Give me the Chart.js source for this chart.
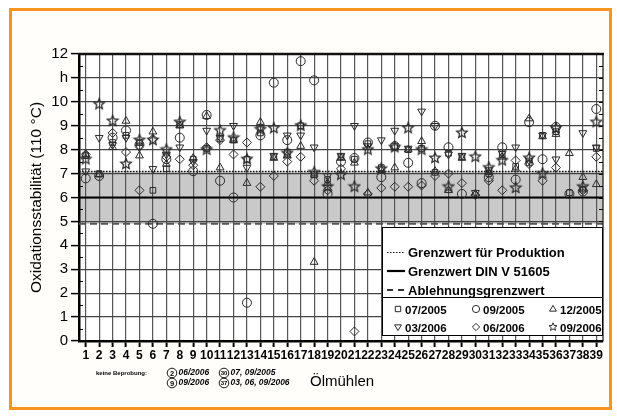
<!DOCTYPE html>
<html>
<head>
<meta charset="utf-8">
<script src="https://cdn.jsdelivr.net/npm/chart.js@4.4.0/dist/chart.umd.min.js"></script>
<style>
  html, body { margin: 0; padding: 0; background: #fff; }
  #wrap { position: relative; width: 617px; height: 416px; }
  #frame { position: absolute; left: 9px; top: 8px; width: 597px; height: 396px; border: 3px solid #f7941d; background: #fffefa; }
  canvas { position: absolute; left: 0; top: 0; }
</style>
</head>
<body>
<div id="wrap"><div id="frame"></div><canvas id="oxChart" width="617" height="416"></canvas></div>
<script>
// Ölmühlen 1..39
const muehlen = ['1','2','3','4','5','6','7','8','9','10','11','12','13','14','15','16','17','18','19','20',
                 '21','22','23','24','25','26','27','28','29','30','31','32','33','34','35','36','37','38','39'];

// Oxidationsstabilität in h, per sampling date (null = keine Beprobung)
const s0705 = [7.75, 7.0, 8.3, 8.6, 8.3, 6.3, 7.2, 9.05, 7.6, 8.05, 8.45, 8.4, 7.6, 8.7, 7.7, 7.9, 9.0, 6.95, 6.75, 7.7,
               7.6, 8.25, 7.25, 8.15, 8.0, 8.05, 7.05, 7.85, 7.7, null, 7.0, 7.8, 7.3, 7.45, 8.6, 8.75, 6.2, 6.35, 8.05];
const s0905 = [6.8, 6.9, 8.5, 8.8, 8.2, 4.9, 7.6, 8.5, 7.1, 9.45, 6.7, 6.0, 1.6, 8.6, 10.8, 8.4, 11.7, 10.9, 6.15, 7.5,
               7.65, 8.3, 6.85, 8.15, 7.45, 6.6, 9.0, 8.1, 6.15, null, 6.85, 8.1, 6.75, 9.15, 7.6, 8.95, 6.15, 6.25, 9.7];
const s1205 = [7.8, 6.95, 8.1, 9.2, 7.75, 8.75, 7.4, 9.0, 7.65, 9.4, 7.25, 8.4, 6.6, 9.15, 7.65, 7.75, 8.15, 3.3, 6.6, 7.65,
               7.45, 6.2, 7.15, 7.25, 8.0, 8.35, 7.1, 6.3, 7.65, 6.15, 7.05, 7.7, 7.2, 9.3, 8.55, 8.65, 7.85, 6.85, 6.55];
const s0306 = [7.1, 8.5, 8.2, 8.5, 8.1, 7.2, 7.8, 8.1, 7.5, 8.8, 8.5, 9.0, 7.25, 8.9, 7.75, 8.6, 8.6, 8.1, 6.9, 7.75,
               9.0, 8.15, 8.4, 8.8, 8.05, 9.6, 9.0, 7.8, 7.75, 6.2, 7.15, 7.85, 8.1, 7.55, 8.6, 7.6, null, 8.7, 8.1];
const s0606 = [7.8, null, 8.7, 7.9, 6.3, 8.45, 7.7, 7.6, 7.35, 8.1, 8.4, 7.8, 8.3, 6.45, 6.9, 7.5, 7.7, 6.7, 6.3, 7.2,
               0.4, 6.15, 6.4, 6.45, 6.45, 6.5, 6.9, 7.0, 6.6, 6.1, 6.7, 6.3, 7.55, 7.4, 6.7, 7.25, null, 6.3, 7.7];
const s0906 = [7.6, 9.9, 9.2, 7.4, 8.4, 8.4, 8.0, 9.15, null, 8.0, 8.8, 8.5, 7.6, 8.85, 8.9, 7.85, 9.0, 7.05, 6.45, 6.95,
               6.45, 8.0, 7.2, 8.1, 8.9, 8.0, 7.65, 6.45, 8.7, 7.7, 7.25, 7.55, 6.4, 7.65, 7.0, 8.9, null, 6.45, 9.15];

const seriesLabels = ['07/2005', '09/2005', '12/2005', '03/2006', '06/2006', '09/2006'];

// Grenzwerte
const limitProduction = 7.1;
const limitDin = 6.0;
const limitReject = 4.9;
const limitLabels = ['Grenzwert für Produktion', 'Grenzwert DIN V 51605', 'Ablehnungsgrenzwert'];

const yTickLabels = ['0','1','2','3','4','5','6','7','8','9','10','h','12'];

const noSampling = [
    ['2', '06/2006'], ['30', '07, 09/2005'],
    ['9', '09/2006'], ['37', '03, 06, 09/2006']
];

const INK = '#2a2a2a';
const FONT = '"Liberation Sans", Arial, sans-serif';

// 5-point star marker
function makeStar(r, w) {
    const c = document.createElement('canvas');
    const s = Math.ceil(r * 2 + 3);
    c.width = s; c.height = s;
    const g = c.getContext('2d');
    g.strokeStyle = INK;
    g.lineWidth = w;
    g.beginPath();
    for (let i = 0; i < 10; i++) {
        const rad = i % 2 === 0 ? r : r * 0.45;
        const a = -Math.PI / 2 + i * Math.PI / 5;
        const px = s / 2 + rad * Math.cos(a), py = s / 2 + rad * Math.sin(a);
        if (i === 0) g.moveTo(px, py); else g.lineTo(px, py);
    }
    g.closePath();
    g.stroke();
    return c;
}
const starBig = makeStar(5.5, 1.25);
const starSmall = makeStar(4.2, 1);

function drawMarker(ctx, kind, x, y, r) {
    ctx.save();
    ctx.strokeStyle = INK;
    ctx.lineWidth = 1;
    ctx.beginPath();
    if (kind === 'circle') {
        ctx.arc(x, y, r, 0, Math.PI * 2);
    } else if (kind === 'rect') {
        const h = r * 0.75;
        ctx.rect(x - h, y - h, 2 * h, 2 * h);
    } else if (kind === 'triangle' || kind === 'down') {
        const d = kind === 'down' ? -1 : 1;
        ctx.moveTo(x, y - d * r);
        ctx.lineTo(x - r * 0.95, y + d * r * 0.6);
        ctx.lineTo(x + r * 0.95, y + d * r * 0.6);
        ctx.closePath();
    } else if (kind === 'rectRot') {
        ctx.moveTo(x, y - r); ctx.lineTo(x + r, y); ctx.lineTo(x, y + r); ctx.lineTo(x - r, y);
        ctx.closePath();
    }
    if (kind === 'star') {
        ctx.drawImage(starSmall, x - starSmall.width / 2, y - starSmall.height / 2);
    } else {
        ctx.stroke();
    }
    ctx.restore();
}

function hline(ctx, x1, x2, y, width, dash, color) {
    ctx.save();
    ctx.strokeStyle = color;
    ctx.lineWidth = width;
    ctx.setLineDash(dash);
    ctx.beginPath();
    ctx.moveTo(x1, y);
    ctx.lineTo(x2, y);
    ctx.stroke();
    ctx.restore();
}

const limitsPlugin = {
    id: 'limits',
    beforeDraw(chart) {
        const {ctx, chartArea: a, scales: {y}} = chart;
        ctx.save();
        ctx.fillStyle = '#fff';
        ctx.fillRect(a.left, a.top, a.width, a.height);
        const top = y.getPixelForValue(limitProduction);
        const bot = y.getPixelForValue(limitReject);
        ctx.fillStyle = '#c9c9c9';
        ctx.fillRect(a.left, top, a.width, bot - top);
        ctx.restore();
    },
    beforeDatasetsDraw(chart) {
        const {ctx, chartArea: a, scales: {y}} = chart;
        hline(ctx, a.left, a.right, Math.round(y.getPixelForValue(limitProduction)) + 0.5, 1.3, [1.5, 1.5], '#111');
        hline(ctx, a.left, a.right, y.getPixelForValue(limitDin), 2.2, [], '#000');
        hline(ctx, a.left, a.right, y.getPixelForValue(limitReject), 2, [7, 4], '#555');

        // minor ticks on both vertical axes
        ctx.save();
        ctx.strokeStyle = '#000';
        ctx.lineWidth = 1;
        for (let v = 0.5; v < 12; v += 0.5) {
            const py = Math.round(y.getPixelForValue(v)) + 0.5;
            ctx.beginPath();
            if (v % 1 !== 0) { ctx.moveTo(a.left, py); ctx.lineTo(a.left + 4, py); }
            ctx.moveTo(a.right - 4, py); ctx.lineTo(a.right, py);
            ctx.stroke();
        }
        ctx.restore();
        // top and right frame
        hline(ctx, a.left - 1, a.right + 1, a.top, 2.5, [], '#111');
        ctx.save();
        ctx.strokeStyle = '#111';
        ctx.lineWidth = 1.2;
        ctx.beginPath();
        ctx.moveTo(a.right, a.top);
        ctx.lineTo(a.right, a.bottom);
        ctx.stroke();
        ctx.restore();
    },
    afterDraw(chart) {
        const {ctx, chartArea: a} = chart;

        // legend box
        const L = 382.5, T = 227.5, R = 602.5, B = 335.5, S = 297.5;
        ctx.save();
        ctx.fillStyle = '#fff';
        ctx.fillRect(L, T, R - L, B - T);
        ctx.strokeStyle = '#000';
        ctx.lineWidth = 1;
        ctx.strokeRect(L, T, R - L, B - T);
        ctx.beginPath(); ctx.moveTo(L, S); ctx.lineTo(R, S); ctx.stroke();

        const ly = [252, 271, 290];
        hline(ctx, 387, 405, ly[0] + 0.5, 1.2, [1.5, 1.5], '#111');
        hline(ctx, 387, 405, ly[1], 2.2, [], '#000');
        hline(ctx, 387, 405, ly[2], 2, [6, 5], '#333');
        ctx.fillStyle = '#000';
        ctx.font = 'bold 13px ' + FONT;
        ctx.textBaseline = 'middle';
        ctx.textAlign = 'left';
        limitLabels.forEach((t, i) => ctx.fillText(t, 408, ly[i] + 1));

        const cols = [398, 476, 553], rows = [310, 328];
        const kinds = ['rect', 'circle', 'triangle', 'down', 'rectRot', 'star'];
        ctx.font = 'bold 11.5px ' + FONT;
        seriesLabels.forEach((t, i) => {
            const cx = cols[i % 3], cy = rows[Math.floor(i / 3)];
            drawMarker(ctx, kinds[i], cx, cy - 1, 3.6);
            ctx.fillStyle = '#000';
            ctx.fillText(t, cx + 7, cy + 1);
        });

        // axis titles
        ctx.font = '15px ' + FONT;
        ctx.textAlign = 'left';
        ctx.fillText('Ölmühlen', 310, 382);
        ctx.save();
        ctx.translate(37, (a.top + a.bottom) / 2);
        ctx.rotate(-Math.PI / 2);
        ctx.textAlign = 'center';
        ctx.font = '15.5px ' + FONT;
        ctx.fillText('Oxidationsstabilität (110 °C)', 0, 0);
        ctx.restore();

        // footnote
        ctx.font = 'bold 6px ' + FONT;
        ctx.fillText('keine Beprobung:', 96, 373);
        const fx = [172, 224], fy = [373, 383];
        noSampling.forEach((n, i) => {
            const cx = fx[i % 2], cy = fy[Math.floor(i / 2)];
            ctx.beginPath();
            ctx.arc(cx, cy, 4.8, 0, Math.PI * 2);
            ctx.strokeStyle = '#000';
            ctx.lineWidth = 0.9;
            ctx.stroke();
            ctx.textAlign = 'center';
            ctx.font = 'bold ' + (n[0].length > 1 ? 6 : 7.5) + 'px ' + FONT;
            ctx.fillText(n[0], cx, cy + 0.5);
            ctx.textAlign = 'left';
            ctx.font = 'italic bold 8.5px ' + FONT;
            ctx.fillText(n[1], cx + 6.5, cy);
        });
        ctx.restore();
    }
};

const pointBase = {
    showLine: false,
    pointRadius: 4.5,
    pointHoverRadius: 4.5,
    pointBorderWidth: 1,
    pointBorderColor: INK,
    pointBackgroundColor: 'rgba(0,0,0,0)',
    borderColor: INK
};

const ctx = document.getElementById('oxChart').getContext('2d');
const oxChart = new Chart(ctx, {
    type: 'line',
    data: {
        labels: muehlen,
        datasets: [
            Object.assign({label: seriesLabels[0], data: s0705, pointStyle: 'rect'}, pointBase, {pointRadius: 4, pointHoverRadius: 4}),
            Object.assign({label: seriesLabels[1], data: s0905, pointStyle: 'circle'}, pointBase),
            Object.assign({label: seriesLabels[2], data: s1205, pointStyle: 'triangle'}, pointBase),
            Object.assign({label: seriesLabels[3], data: s0306, pointStyle: 'triangle', pointRotation: 180}, pointBase),
            Object.assign({label: seriesLabels[4], data: s0606, pointStyle: 'rectRot'}, pointBase),
            Object.assign({label: seriesLabels[5], data: s0906, pointStyle: starBig}, pointBase)
        ]
    },
    options: {
        responsive: false,
        animation: false,
        events: [],
        layout: { padding: { left: 0, top: 54, right: 14, bottom: 50 } },
        plugins: {
            legend: { display: false },
            tooltip: { enabled: false }
        },
        scales: {
            x: {
                type: 'category',
                offset: true,
                grid: {
                    offset: false,
                    color: '#555',
                    lineWidth: 1.2,
                    tickColor: '#000',
                    tickWidth: 2,
                    tickLength: 6
                },
                border: { color: '#000', width: 2.5 },
                ticks: {
                    autoSkip: false,
                    maxRotation: 0,
                    minRotation: 0,
                    padding: 1,
                    color: '#000',
                    font: { family: FONT, size: 12, weight: 'bold' }
                },
                afterFit(scale) { scale.height = 25; }
            },
            y: {
                min: 0,
                max: 12,
                grid: {
                    color: '#444',
                    lineWidth: 1.2,
                    tickColor: '#000',
                    tickWidth: 1.5,
                    tickLength: 8
                },
                border: { color: '#000', width: 2.5 },
                ticks: {
                    stepSize: 1,
                    padding: 3,
                    color: '#000',
                    font: { family: FONT, size: 15 },
                    callback: (v) => yTickLabels[v]
                },
                afterFit(scale) { scale.width = 79; }
            }
        }
    },
    plugins: [limitsPlugin]
});
</script>
</body>
</html>
